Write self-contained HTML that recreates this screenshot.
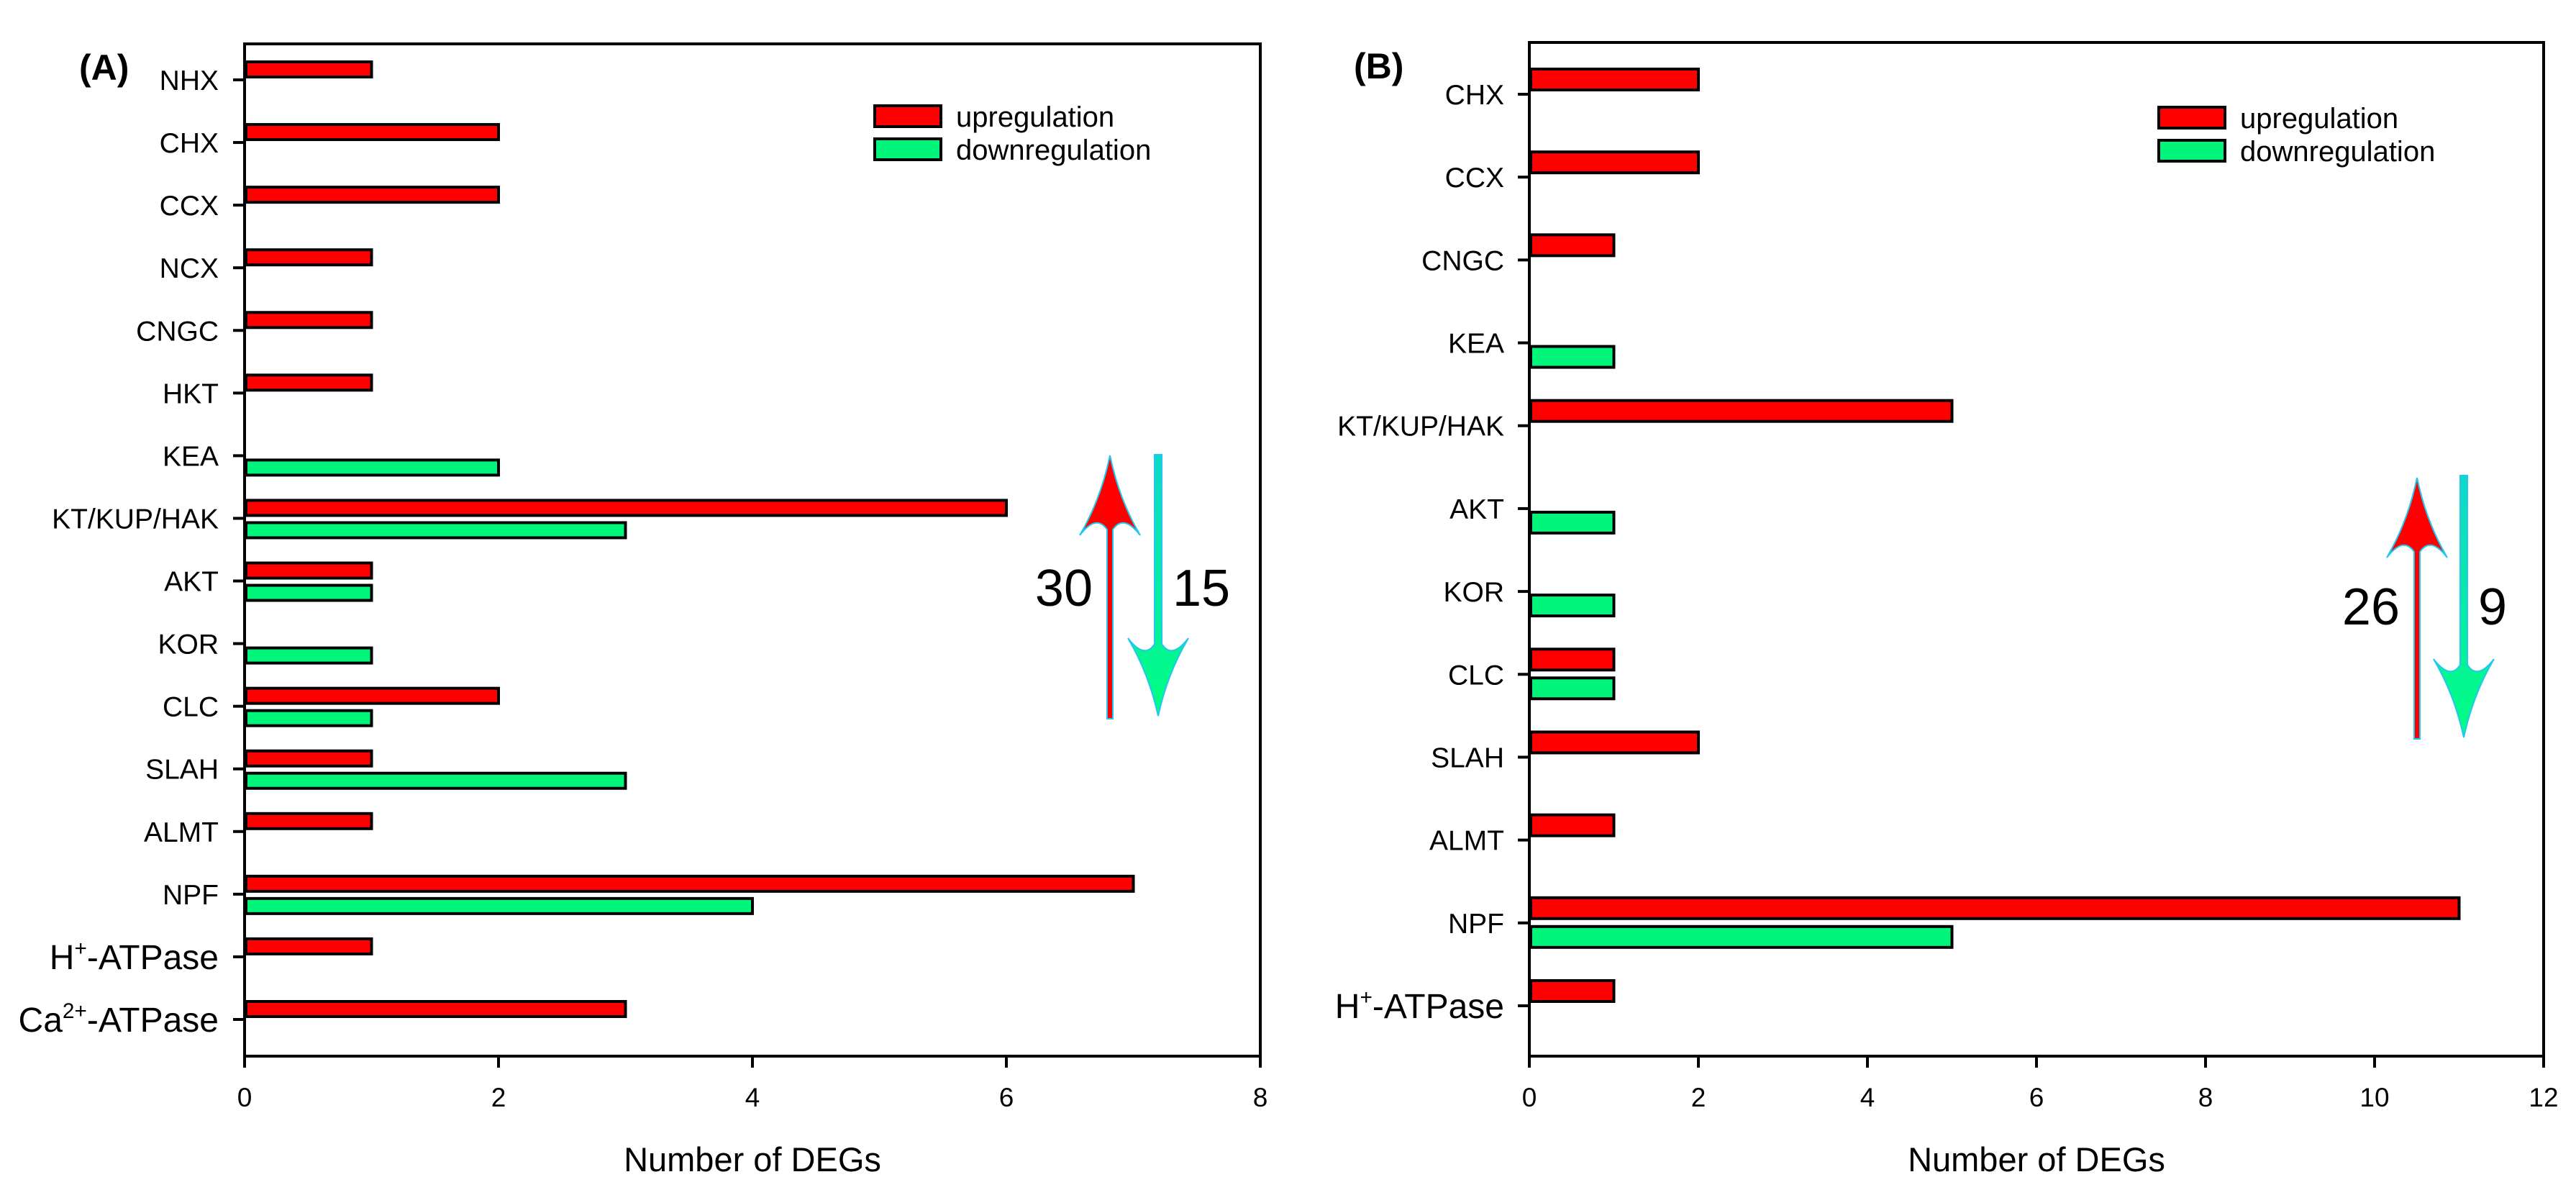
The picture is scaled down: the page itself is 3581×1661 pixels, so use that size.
<!DOCTYPE html>
<html><head><meta charset="utf-8">
<style>
html,body{margin:0;padding:0;background:#fff;}
svg{display:block;font-family:"Liberation Sans",Arial,sans-serif;}
</style></head>
<body>
<svg id="chart" width="3581" height="1661" viewBox="0 0 3581 1661" xmlns="http://www.w3.org/2000/svg">
<rect width="3581" height="1661" fill="#fff"/>
<defs>
<linearGradient id="gg" x1="0" y1="0" x2="0" y2="1"><stop offset="0" stop-color="#10d8c8"/><stop offset="1" stop-color="#00ff80"/></linearGradient>
</defs>
<g id="panelA"></g>
<g id="panelB"></g>
</svg>
<script>
const catsA = ["NHX","CHX","CCX","NCX","CNGC","HKT","KEA","KT/KUP/HAK","AKT","KOR","CLC","SLAH","ALMT","NPF","H+-ATPase","Ca2+-ATPase"];
const upA   = [1,2,2,1,1,1,0,6,1,0,2,1,1,7,1,3];
const downA = [0,0,0,0,0,0,2,3,1,1,1,3,0,4,0,0];
const ticksA = [0,2,4,6,8];
const catsB = ["CHX","CCX","CNGC","KEA","KT/KUP/HAK","AKT","KOR","CLC","SLAH","ALMT","NPF","H+-ATPase"];
const upB   = [2,2,1,0,5,0,0,1,2,1,11,1];
const downB = [0,0,0,1,0,1,1,1,0,0,5,0];
const ticksB = [0,2,4,6,8,10,12];
const totalsA = ["30","15"];
const totalsB = ["26","9"];

const NS="http://www.w3.org/2000/svg";
function mk(parent,tag,attrs){const e=document.createElementNS(NS,tag);for(const k in attrs)e.setAttribute(k,attrs[k]);parent.appendChild(e);return e;}

function labelText(g,name,x,y,size){
  const t=mk(g,"text",{x:x,y:y,"text-anchor":"end","font-size":size,fill:"#000"});
  let m=name.match(/^(H|Ca)(\d?\+)(-ATPase)$/);
  if(m){
    const a=document.createElementNS(NS,"tspan");a.textContent=m[1];t.appendChild(a);
    const b=document.createElementNS(NS,"tspan");b.setAttribute("dy","-19");b.setAttribute("font-size",size*0.62);b.textContent=m[2];t.appendChild(b);
    const c=document.createElementNS(NS,"tspan");c.setAttribute("dy","19");c.textContent=m[3];t.appendChild(c);
  } else t.textContent=name;
  return t;
}

function arrowUp(g,x,top,bottom,hw,base,fill){
  const p=`M${x-4},${bottom} L${x-4},${base-8} Q${x-hw*0.45},${base-30} ${x-hw},${base} Q${x-hw*0.3},${base-50} ${x},${top} Q${x+hw*0.3},${base-50} ${x+hw},${base} Q${x+hw*0.45},${base-30} ${x+4},${base-8} L${x+4},${bottom} Z`;
  return mk(g,"path",{d:p,fill:fill,stroke:"#20c8f0","stroke-width":2});
}
function arrowDown(g,x,top,tip,hw,base,fill){
  const p=`M${x-5},${top} L${x-5},${base+8} Q${x-hw*0.45},${base+30} ${x-hw},${base} Q${x-hw*0.3},${base+50} ${x},${tip} Q${x+hw*0.3},${base+50} ${x+hw},${base} Q${x+hw*0.45},${base+30} ${x+5},${base+8} L${x+5},${top} Z`;
  return mk(g,"path",{d:p,fill:fill,stroke:"#20c8f0","stroke-width":2});
}

function panel(g,cfg){
  const {cats,up,down,ticks,x0,x1,top,bottom,tick0,tickN,upOff,barH,gap,lab,labX,xmax}=cfg;
  const xs=v=>x0+(x1-x0)*v/xmax;
  const n=cats.length;
  const ys=i=>tick0+(tickN-tick0)*i/(n-1);
  const fr=mk(g,"rect",{x:x0,y:top,width:x1-x0,height:bottom-top,fill:"none",stroke:"#000","stroke-width":4});
  
  
  for(let i=0;i<n;i++){
    const y=ys(i);
    const tk=mk(g,"line",{x1:x0-16,x2:x0,y1:y,y2:y,stroke:"#000","stroke-width":4});
    
    
    const big=cats[i].indexOf("ATPase")>=0;
    const t=labelText(g,cats[i],labX,y+(big?17:14),big?48:39);
    
    
    if(up[i]>0){
      const r=mk(g,"rect",{x:x0+2,y:y-upOff,width:xs(up[i])-x0-2,height:barH,fill:"#ff0000",stroke:"#000","stroke-width":4});
      
      
    }
    if(down[i]>0){
      const r=mk(g,"rect",{x:x0+2,y:y+gap,width:xs(down[i])-x0-2,height:barH,fill:"#00f57a",stroke:"#000","stroke-width":4});
      
      
    }
  }
  ticks.forEach(v=>{
    const x=xs(v);
    const l=mk(g,"line",{x1:x,x2:x,y1:bottom,y2:bottom+16,stroke:"#000","stroke-width":4});
    
    
    const t=mk(g,"text",{x:x,y:1538,"text-anchor":"middle","font-size":37});
    t.textContent=v;
    
    
  });
  const ti=mk(g,"text",{x:(x0+x1)/2,y:1628,"text-anchor":"middle","font-size":47});
  ti.textContent="Number of DEGs";
  
  
  const pl=mk(g,"text",{x:lab[1],y:lab[2],"font-size":50,"font-weight":"bold"});
  pl.textContent=lab[0];
  
  
}

const gA=document.getElementById("panelA"), gB=document.getElementById("panelB");
panel(gA,{cats:catsA,up:upA,down:downA,ticks:ticksA,x0:340,x1:1752,top:61,bottom:1468,tick0:111,tickN:1417,upOff:25,barH:21,gap:6,lab:["(A)",110,111],labX:304,xmax:8});
panel(gB,{cats:catsB,up:upB,down:downB,ticks:ticksB,x0:2126,x1:3536,top:59,bottom:1468,tick0:131,tickN:1398,upOff:35,barH:29,gap:5,lab:["(B)",1882,109],labX:2091,xmax:12});

function legend(g,bx,by,tx){
  const r1=mk(g,"rect",{x:bx,y:by,width:92,height:29,fill:"#ff0000",stroke:"#000","stroke-width":4});
  
  
  const r2=mk(g,"rect",{x:bx,y:by+46,width:92,height:29,fill:"#00f57a",stroke:"#000","stroke-width":4});
  
  
  const t1=mk(g,"text",{x:tx,y:by+29,"font-size":40});t1.textContent="upregulation";
  
  
  const t2=mk(g,"text",{x:tx,y:by+75,"font-size":40});t2.textContent="downregulation";
  
  
}
legend(gA,1216,147,1329);
legend(gB,3001,149,3114);

function totals(g,vals,ux,utop,ubot,ubase,dx,dtop,dtip,dbase,ty,hw){
  const a=arrowUp(g,ux,utop,ubot,hw,ubase,"#ff0000");
  
  
  const b=arrowDown(g,dx,dtop,dtip,hw,dbase,"url(#gg)");
  
  
  const t1=mk(g,"text",{x:ux-24,y:ty,"text-anchor":"end","font-size":72});t1.textContent=vals[0];
  
  
  const t2=mk(g,"text",{x:dx+20,y:ty,"font-size":72});t2.textContent=vals[1];
  
  
}
totals(gA,totalsA,1543,633,999,744,1610,632,995,887,842,42);
totals(gB,totalsB,3360,664,1027,775,3425,661,1025,916,868,42);
</script>
</body></html>
